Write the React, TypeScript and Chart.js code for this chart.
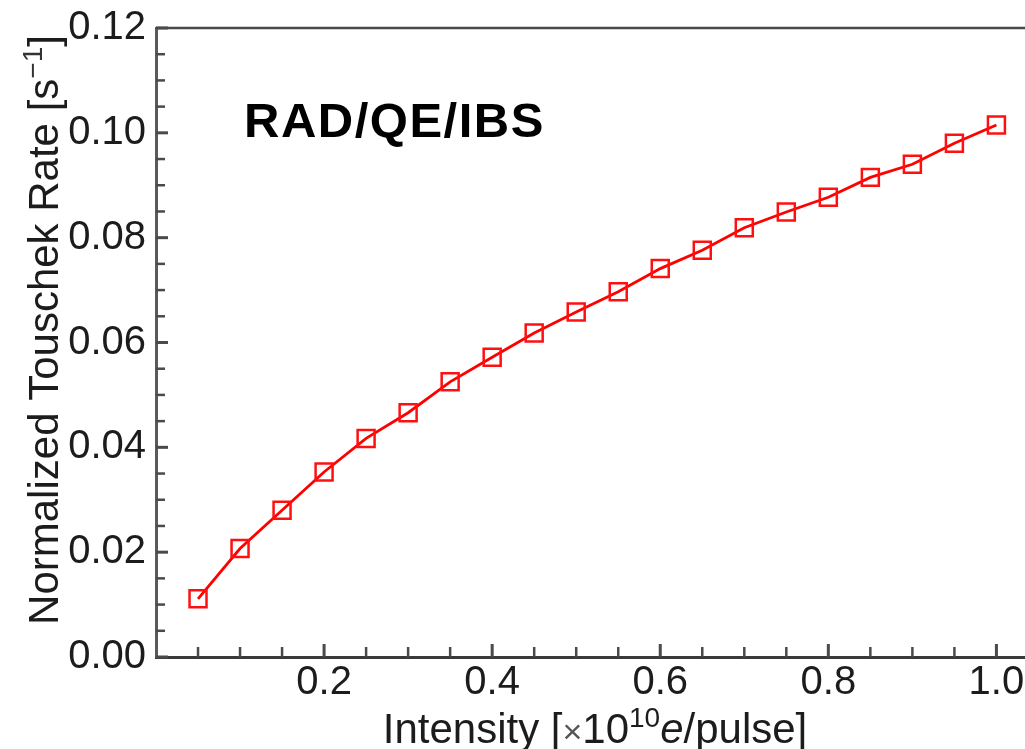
import React, { useEffect, useRef } from 'react';
import { Chart, registerables } from 'chart.js';

Chart.register(...registerables);

// ---- data ----
const intensity = [0.05, 0.1, 0.15, 0.2, 0.25, 0.3, 0.35, 0.4, 0.45, 0.5, 0.55, 0.6, 0.65, 0.7, 0.75, 0.8, 0.85, 0.9, 0.95, 1.0];
const touschekRate = [0.0111, 0.0207, 0.028, 0.0353, 0.0417, 0.0466, 0.0525, 0.0572, 0.0618, 0.0658, 0.0697, 0.0741, 0.0776, 0.0819, 0.0849, 0.0877, 0.0915, 0.094, 0.098, 0.1015];
const xTickValues = [0.2, 0.4, 0.6, 0.8, 1.0];
const yTickValues = [0, 0.02, 0.04, 0.06, 0.08, 0.1, 0.12];
const xMinorStep = 0.05;
const yMinorStep = 0.005;
const panelLabel = 'RAD/QE/IBS';

const FONT = "'Liberation Sans', Arial, Helvetica, sans-serif";
const TEXT = '#1c1c1c';
const AXIS = '#4a4a4a';

type Part = { text: string; size: number; dy?: number; style?: string; color?: string };

function drawRich(ctx: CanvasRenderingContext2D, parts: Part[], cx: number, baseY: number) {
  let total = 0;
  for (const p of parts) {
    ctx.font = `${p.style || ''} ${p.size}px ${FONT}`;
    total += ctx.measureText(p.text).width;
  }
  let x = cx - total / 2;
  ctx.textAlign = 'left';
  ctx.textBaseline = 'alphabetic';
  for (const p of parts) {
    ctx.font = `${p.style || ''} ${p.size}px ${FONT}`;
    ctx.fillStyle = p.color || TEXT;
    ctx.fillText(p.text, x, baseY + (p.dy || 0));
    x += ctx.measureText(p.text).width;
  }
}

const zeroPad = (s: any) => {
  s.paddingTop = 0;
  s.paddingBottom = 0;
  s.paddingLeft = 0;
  s.paddingRight = 0;
};

const decorPlugin = {
  id: 'decor',
  beforeDatasetsDraw(chart: any) {
    const { ctx, chartArea: a, scales } = chart;
    const xs = scales.x;
    const ys = scales.y;
    ctx.save();
    ctx.strokeStyle = AXIS;
    // top frame line
    ctx.lineWidth = 2.5;
    ctx.beginPath();
    ctx.moveTo(a.left, a.top);
    ctx.lineTo(a.right, a.top);
    ctx.stroke();
    // y inward ticks
    const yMax = yTickValues[yTickValues.length - 1];
    for (let i = 0; i * yMinorStep <= yMax + 1e-9; i++) {
      const v = i * yMinorStep;
      const major = i % 4 === 0;
      const py = ys.getPixelForValue(v);
      ctx.lineWidth = major ? 3 : 2.5;
      ctx.beginPath();
      ctx.moveTo(a.left, py);
      ctx.lineTo(a.left + (major ? 12 : 9), py);
      ctx.stroke();
    }
    // x inward ticks
    for (let i = 1; i * xMinorStep <= 1.0 + 1e-9; i++) {
      const v = i * xMinorStep;
      const major = i % 4 === 0;
      const px = xs.getPixelForValue(v);
      ctx.lineWidth = major ? 3 : 2.5;
      ctx.beginPath();
      ctx.moveTo(px, a.bottom);
      ctx.lineTo(px, a.bottom - (major ? 13 : 10));
      ctx.stroke();
    }
    ctx.restore();
  },
  afterDraw(chart: any) {
    const { ctx } = chart;
    ctx.save();
    // panel label
    ctx.font = `bold 49px ${FONT}`;
    ctx.fillStyle = '#000';
    ctx.textAlign = 'left';
    ctx.textBaseline = 'alphabetic';
    (ctx as any).letterSpacing = '1.5px';
    ctx.fillText(panelLabel, 244, 137);
    (ctx as any).letterSpacing = '0px';
    // x title
    drawRich(ctx, [
      { text: 'Intensity [', size: 42 },
      { text: '×', size: 34, color: '#555' },
      { text: '10', size: 42 },
      { text: '10', size: 28, dy: -16 },
      { text: 'e', size: 42, style: 'italic' },
      { text: '/pulse]', size: 42 },
    ], 595, 743);
    // y title (rotated)
    ctx.translate(58, 330);
    ctx.rotate(-Math.PI / 2);
    drawRich(ctx, [
      { text: 'Normalized Touschek Rate [s', size: 42 },
      { text: '−1', size: 28, dy: -16, color: '#333' },
      { text: ']', size: 42 },
    ], 0, 0);
    ctx.restore();
  },
};

export default function App() {
  const ref = useRef<HTMLCanvasElement | null>(null);
  useEffect(() => {
    if (!ref.current) return;
    const chart = new Chart(ref.current, {
      type: 'line',
      data: {
        datasets: [
          {
            data: intensity.map((x, i) => ({ x, y: touschekRate[i] })),
            borderColor: '#ff0000',
            borderWidth: 2.8,
            pointStyle: 'rect',
            pointRadius: 12,
            pointBorderWidth: 2.5,
            pointBorderColor: '#ff1010',
            pointBackgroundColor: 'rgba(0,0,0,0)',
            tension: 0,
            fill: false,
            clip: false,
          },
        ],
      },
      options: {
        animation: false,
        responsive: true,
        maintainAspectRatio: false,
        layout: { autoPadding: false, padding: { top: 28, right: 0, left: 0, bottom: 0 } },
        plugins: { legend: { display: false }, tooltip: { enabled: false }, title: { display: false } },
        scales: {
          x: {
            type: 'linear',
            min: 0,
            max: 1.034,
            grid: { display: false, drawTicks: false, tickLength: 0 },
            border: { display: true, color: '#3a3a3a', width: 3 },
            afterBuildTicks: (s: any) => {
              s.ticks = xTickValues.map((v) => ({ value: v }));
            },
            afterFit: (s: any) => {
              s.height = 92;
              zeroPad(s);
            },
            ticks: {
              padding: 2,
              maxRotation: 0,
              autoSkip: false,
              color: TEXT,
              font: { family: FONT, size: 40 },
              callback: (v: any) => Number(v).toFixed(1),
            },
          },
          y: {
            type: 'linear',
            min: 0,
            max: 0.12,
            grid: { display: false, drawTicks: false, tickLength: 0 },
            border: { display: true, color: '#5a5a5a', width: 3 },
            afterBuildTicks: (s: any) => {
              s.ticks = yTickValues.map((v) => ({ value: v }));
            },
            afterFit: (s: any) => {
              s.width = 156;
              zeroPad(s);
            },
            ticks: {
              padding: 10,
              autoSkip: false,
              color: TEXT,
              font: { family: FONT, size: 40 },
              callback: (v: any) => Number(v).toFixed(2),
            },
          },
        },
      },
      plugins: [decorPlugin],
    });
    return () => chart.destroy();
  }, []);
  return (
    <div
      style={{
        position: 'absolute',
        left: 0,
        top: 0,
        width: 1025,
        height: 749,
        overflow: 'hidden',
        background: '#fff',
      }}
    >
      <canvas ref={ref} style={{ display: 'block' }} />
    </div>
  );
}
